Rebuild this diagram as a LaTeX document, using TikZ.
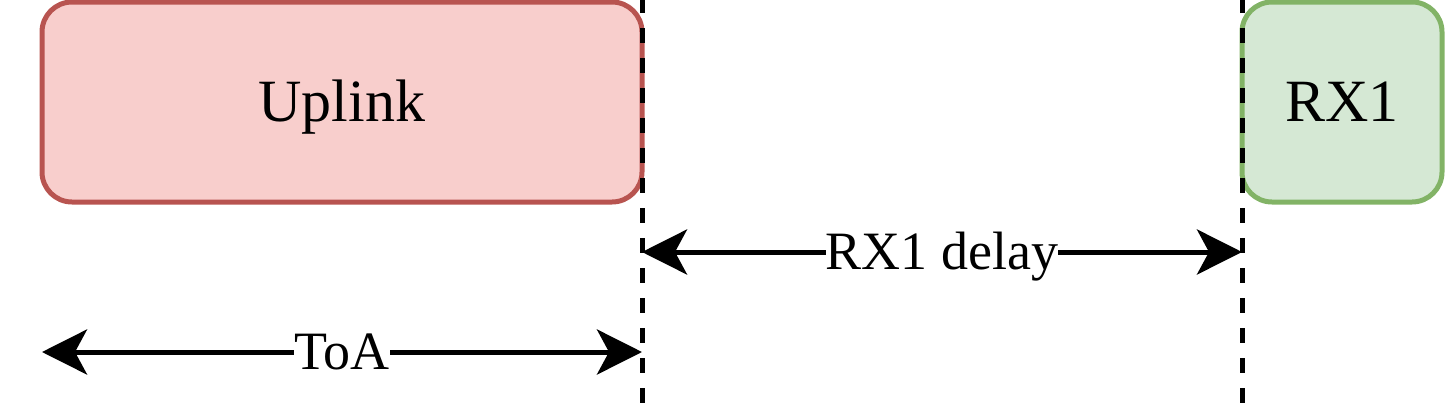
\documentclass[tikz,border=0pt]{standalone}
\usepackage{fontspec}
\setmainfont{Liberation Serif}
\usetikzlibrary{arrows.meta}
\definecolor{redfill}{HTML}{F8CECC}
\definecolor{redline}{HTML}{B85450}
\definecolor{greenfill}{HTML}{D5E8D4}
\definecolor{greenline}{HTML}{82B366}
\tikzset{
  box/.style={draw, line width=5pt, rounded corners=30pt, inner sep=0pt, outer sep=0pt,
    minimum height=200pt, font=\fontsize{60}{72}\selectfont},
  boxtext/.style={anchor=base, inner sep=0pt, font=\fontsize{60}{72}\selectfont},
  uplinkbox/.style={box, fill=redfill, draw=redline, minimum width=600pt},
  rxbox/.style={box, fill=greenfill, draw=greenline, minimum width=200pt},
  guide/.style={draw=black, line width=5pt, dash pattern=on 15pt off 15pt},
  dim/.style={draw=black, line width=5pt,
    {Stealth[length=45pt, width=45pt, inset=12pt]}-{Stealth[length=45pt, width=45pt, inset=12pt]}},
  lbl/.style={fill=white, inner sep=0pt, anchor=base, yshift=-17.7pt,
    font=\fontsize{54}{64}\selectfont}
}
\begin{document}
\begin{tikzpicture}[x=1pt, y=-1pt]
\useasboundingbox (0,0) rectangle (1445,410);
\node[uplinkbox] (up) at (342,102) {};
\node[boxtext] (uptext) at (342,121.5) {Uplink};
\node[rxbox] (rx) at (1342,102) {};
\node[boxtext] (rxtext) at (1342,121.5) {RX1};
\coordinate (g1t) at (642,-2);
\coordinate (g1b) at (642,403);
\coordinate (g2t) at (1242,-2);
\coordinate (g2b) at (1242,403);
\draw[guide] (g1t) -- (g1b);
\draw[guide] (g2t) -- (g2b);
\coordinate (d1a) at (642,252);
\coordinate (d1b) at (1242,252);
\coordinate (d2a) at (42,352);
\coordinate (d2b) at (642,352);
\draw[dim] (d1a) -- node[lbl] (lrx) {RX1 delay} (d1b);
\draw[dim] (d2a) -- node[lbl] (ltoa) {ToA} (d2b);
\end{tikzpicture}
\end{document}
